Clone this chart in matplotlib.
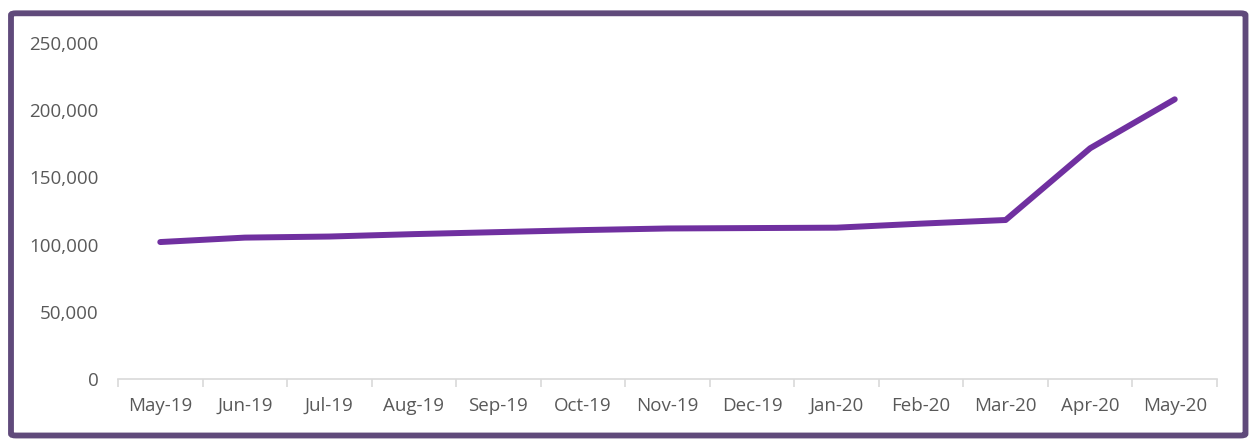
import matplotlib
matplotlib.use("Agg")
import matplotlib.pyplot as plt
from matplotlib.patches import FancyBboxPatch
from matplotlib.ticker import FuncFormatter, FixedLocator
import numpy as np

months = ["May-19", "Jun-19", "Jul-19", "Aug-19", "Sep-19", "Oct-19", "Nov-19",
          "Dec-19", "Jan-20", "Feb-20", "Mar-20", "Apr-20", "May-20"]
values = [101900, 105200, 106000, 107800, 109300, 110800, 112000,
          112300, 112600, 115600, 118300, 171700, 208100]
yticks = [0, 50000, 100000, 150000, 200000, 250000]

plt.rcParams['font.family'] = ['Open Sans', 'DejaVu Sans']

W, H = 1255, 445
fig = plt.figure(figsize=(W / 100, H / 100), dpi=100)
ax = fig.add_axes([118 / W, 1 - 379 / H, (1217 - 118) / W, (379 - 43) / H])

x = np.arange(len(months))
ax.plot(x, values, color="#7030A0", lw=4.3, solid_capstyle="round", solid_joinstyle="round")

ax.set_xlim(-0.5, len(months) - 0.5)
ax.set_ylim(0, 250000)
ax.set_yticks(yticks)
ax.yaxis.set_major_formatter(FuncFormatter(lambda v, p: f"{int(v):,}"))
ax.set_xticks(x)
ax.set_xticklabels(months)
ax.xaxis.set_minor_locator(FixedLocator(np.arange(-0.5, len(months), 1.0)))

for s in ["top", "right", "left"]:
    ax.spines[s].set_visible(False)
ax.spines["bottom"].set_color("#d9d9d9")
ax.spines["bottom"].set_linewidth(1.2)

ax.tick_params(axis="y", length=0, pad=14, labelsize=13.5, labelcolor="#595959")
ax.tick_params(axis="x", which="major", length=0, pad=13, labelsize=13.5, labelcolor="#595959")
ax.tick_params(axis="x", which="minor", length=6, width=1.2, color="#d9d9d9")

border = FancyBboxPatch((11 / W, 1 - 435.5 / H), (1245.5 - 11) / W, (435.5 - 13.3) / H,
                        boxstyle="round,pad=0,rounding_size=0.004",
                        transform=fig.transFigure, fill=False,
                        edgecolor="#604A7B", linewidth=4.2, clip_on=False)
fig.patches.append(border)

fig.savefig("out.png", dpi=100, facecolor="white")
